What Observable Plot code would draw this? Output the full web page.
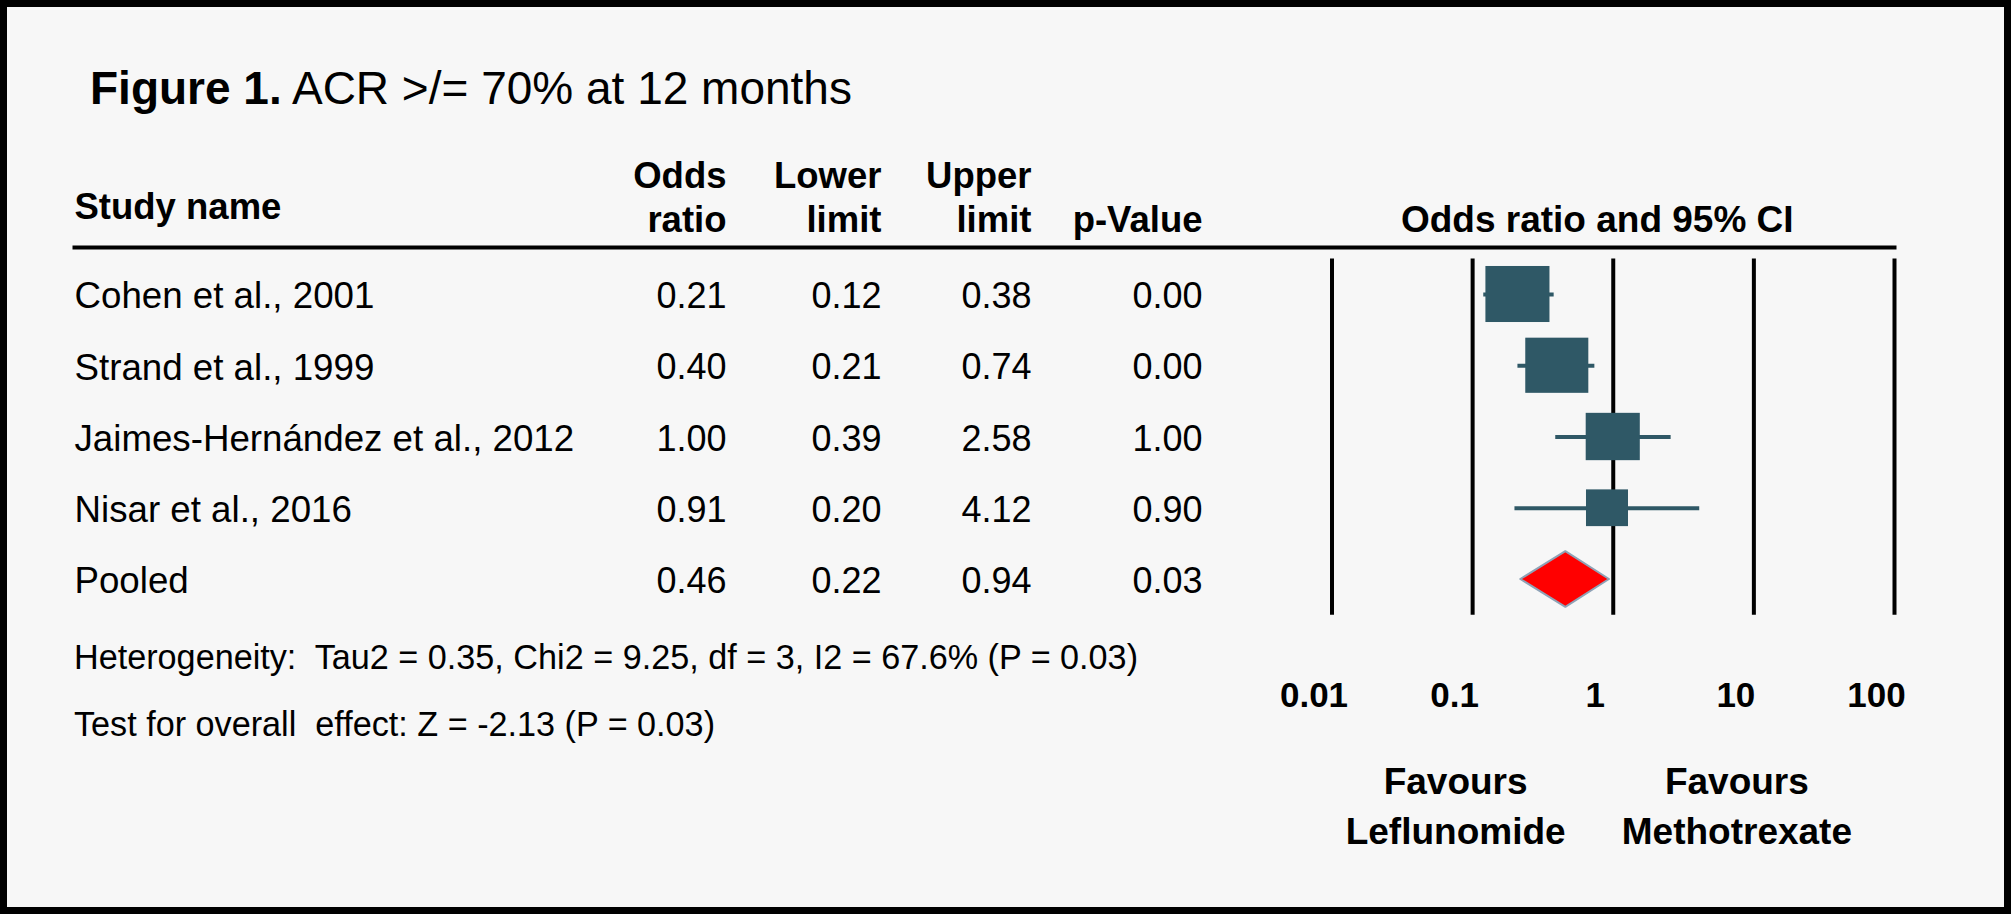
<!DOCTYPE html>
<html>
<head>
<meta charset="utf-8">
<script src="https://cdn.jsdelivr.net/npm/d3@7"></script>
<script src="https://cdn.jsdelivr.net/npm/@observablehq/plot@0.6"></script>
<style>
  html, body { margin: 0; padding: 0; background: #f7f7f7; }
  #wrap { position: relative; width: 2011px; height: 914px; background: #f7f7f7; overflow: hidden;
          font-family: "Liberation Sans", Arial, sans-serif; color: #000; }
  #wrap svg { position: absolute; left: 0; top: 0; }
  #border { position: absolute; left: 0; top: 0; width: 2011px; height: 914px; border: 7px solid #000;
            box-sizing: border-box; z-index: 5; pointer-events: none; }
  .t { position: absolute; white-space: pre; line-height: 1; }
</style>
</head>
<body>
<div id="wrap">
  <div class="t" id="title" style="left:90px;top:65px;font-size:46px;"></div>
  <div class="t" id="het" style="left:74px;top:640px;font-size:34.2px;"></div>
  <div class="t" id="overall" style="left:74px;top:707px;font-size:34.2px;"></div>
  <div id="border"></div>
</div>
<script>
// ---------- data ----------
const studies    = ["Cohen et al., 2001", "Strand et al., 1999", "Jaimes-Hernández et al., 2012", "Nisar et al., 2016", "Pooled"];
const oddsRatio  = [0.21, 0.40, 1.00, 0.91, 0.46];
const lowerLimit = [0.12, 0.21, 0.39, 0.20, 0.22];
const upperLimit = [0.38, 0.74, 2.58, 4.12, 0.94];
const pValue     = [0.00, 0.00, 1.00, 0.90, 0.03];
const weights    = [32.1, 31.1, 22.9, 13.8];          // relative weight (%)
const columnHeaders = ["Odds\nratio", "Lower\nlimit", "Upper\nlimit", "p-Value"];
const axisTicks  = [0.01, 0.1, 1, 10, 100];
const tickLabels = ["0.01", "0.1", "1", "10", "100"];
const favoursLabels = ["Favours\nLeflunomide", "Favours\nMethotrexate"];
const favoursAt  = [0.1, 10];
const titleBold  = "Figure 1.";
const titleRest  = " ACR >/= 70% at 12 months";
const heterogeneity = "Heterogeneity:  Tau2 = 0.35, Chi2 = 9.25, df = 3, I2 = 67.6% (P = 0.03)";
const overallEffect = "Test for overall  effect: Z = -2.13 (P = 0.03)";

// ---------- derived table ----------
const rows = studies.map((name, i) => ({
  i, name, or: oddsRatio[i], lo: lowerLimit[i], hi: upperLimit[i], p: pValue[i], w: weights[i]
}));
const trials = rows.filter(d => d.w !== undefined);
const pooled = rows[rows.length - 1];
const valueKeys = ["or", "lo", "hi", "p"];
const fmt = d3.format(".2f");

const FONT = '"Liberation Sans", Arial, sans-serif';
const SQ = "#2f5866";
const yScale = {domain: [0, studies.length - 1], range: [294, 579], axis: null};

// marker half-size (style): square side proportional to sqrt(weight)
const halfW = d => 0.0402 * Math.sqrt(d.w);   // in decades
const halfH = d => 0.0694 * Math.sqrt(d.w);   // in rows
const DIAMOND_HALF = 0.39;
const diamond = [
  {x: pooled.lo, y1: pooled.i, y2: pooled.i},
  {x: pooled.or, y1: pooled.i - DIAMOND_HALF, y2: pooled.i + DIAMOND_HALF},
  {x: pooled.hi, y1: pooled.i, y2: pooled.i}
];

const titleEl = document.getElementById("title");
const tb = document.createElement("b"); tb.textContent = titleBold;
titleEl.append(tb, document.createTextNode(titleRest));
document.getElementById("het").textContent = heterogeneity;
document.getElementById("overall").textContent = overallEffect;

// ---------- table plot ----------
const table = Plot.plot({
  width: 2011, height: 914,
  marginTop: 247, marginLeft: 74, marginRight: 117, marginBottom: 0,
  style: {background: "transparent", fontFamily: FONT, overflow: "visible"},
  x: {type: "linear", domain: [0, 1, 2, 3], range: [726, 881, 1031, 1202], axis: null},
  y: yScale,
  marks: [
    Plot.frame({anchor: "top", stroke: "#000", strokeWidth: 4}),
    Plot.text(["Study name"], {frameAnchor: "top-left", textAnchor: "start", lineAnchor: "bottom",
      dy: -29, fontSize: 36.5, fontWeight: "bold", fill: "#000"}),
    Plot.text(columnHeaders, {x: (d, i) => i, frameAnchor: "top", textAnchor: "end", lineAnchor: "bottom",
      dy: -16, lineHeight: 1.2, fontSize: 36.5, fontWeight: "bold", fill: "#000"}),
    Plot.text(rows, {y: "i", text: "name", frameAnchor: "left", textAnchor: "start", dy: 2,
      fontSize: 36.7, fill: "#000"}),
    ...valueKeys.map((key, c) => Plot.text(rows, {x: () => c, y: "i", text: d => fmt(d[key]),
      textAnchor: "end", dy: 2, fontSize: 36, fill: "#000"}))
  ]
});

// ---------- forest plot ----------
const forest = Plot.plot({
  width: 2011, height: 914,
  marginTop: 247, marginBottom: 207.5, marginLeft: 0, marginRight: 0,
  style: {background: "transparent", fontFamily: FONT, overflow: "visible"},
  x: {type: "log", domain: [axisTicks[0], axisTicks[axisTicks.length - 1]], range: [1331.5, 1894], axis: null},
  y: yScale,
  marks: [
    Plot.ruleX(axisTicks, {x: d => d, y1: () => -0.5, y2: () => studies.length - 0.5, stroke: "#000", strokeWidth: 4}),
    Plot.ruleY(trials, {y: "i", x1: "lo", x2: "hi", stroke: SQ, strokeWidth: 4}),
    Plot.rect(trials, {x1: d => d.or / 10 ** halfW(d), x2: d => d.or * 10 ** halfW(d),
      y1: d => d.i - halfH(d), y2: d => d.i + halfH(d), fill: SQ}),
    Plot.areaY(diamond, {x: "x", y1: "y1", y2: "y2", fill: "#ff0000", stroke: "#8fa2b6", strokeWidth: 2}),
    Plot.text(["Odds ratio and 95% CI"], {x: () => 1, frameAnchor: "top", lineAnchor: "bottom",
      dy: -16, dx: -16, fontSize: 37, fontWeight: "bold", fill: "#000"}),
    Plot.text(axisTicks, {x: d => d, text: tickLabels, frameAnchor: "bottom", lineAnchor: "bottom",
      dx: -18, fontSize: 35, fontWeight: "bold", fill: "#000"}),
    Plot.text(favoursLabels, {x: favoursAt, frameAnchor: "bottom", lineAnchor: "bottom",
      dx: -17, dy: 137, lineHeight: 1.34, fontSize: 37, fontWeight: "bold", fill: "#000"})
  ]
});

const wrap = document.getElementById("wrap");
wrap.insertBefore(forest, document.getElementById("border"));
wrap.insertBefore(table, forest);
</script>
</body>
</html>
